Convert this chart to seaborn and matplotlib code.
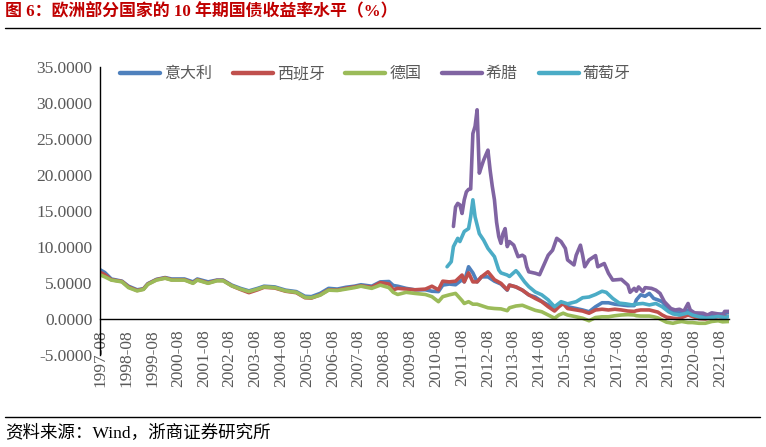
import matplotlib
matplotlib.use("Agg")
import matplotlib.pyplot as plt
import matplotlib.dates as mdates
from matplotlib.lines import Line2D
from matplotlib.ticker import FormatStrFormatter
import seaborn as sns
import pandas as pd
import numpy as np

# ---------------- data ----------------
countries = ["意大利", "西班牙", "德国", "希腊", "葡萄牙"]
colors = ["#4F81BD", "#C0504D", "#9BBB59", "#8064A2", "#4BACC6"]

core_dates = [
    "1997-08", "1997-10", "1998-01", "1998-06", "1998-09", "1999-01", "1999-04", "1999-06",
    "1999-10", "2000-02", "2000-05", "2000-11", "2001-03", "2001-05", "2001-10", "2002-02",
    "2002-05", "2002-09", "2003-01", "2003-05", "2003-09", "2003-12", "2004-05", "2004-10",
    "2005-03", "2005-07", "2005-10", "2006-02", "2006-06", "2006-10", "2007-02", "2007-06",
    "2007-09", "2008-02", "2008-06", "2008-10", "2008-12", "2009-02", "2009-06", "2009-10",
    "2010-03", "2010-06", "2010-09",
    "2010-11", "2011-02", "2011-05", "2011-08", "2011-09", "2011-11", "2012-01", "2012-03",
    "2012-05", "2012-08", "2012-11", "2013-02", "2013-05", "2013-06", "2013-09", "2013-12",
    "2014-03", "2014-06", "2014-09", "2014-12", "2015-03", "2015-05", "2015-07", "2015-09",
    "2016-01", "2016-04", "2016-07", "2016-10", "2017-01", "2017-04", "2017-07", "2017-10",
    "2018-01", "2018-04", "2018-05", "2018-07", "2018-09", "2018-11", "2019-01", "2019-03",
    "2019-05", "2019-07", "2019-10", "2019-12", "2020-02", "2020-05", "2020-07", "2020-10",
    "2021-01", "2021-04", "2021-07", "2021-09", "2021-12",
]

italy = [
    6.85, 6.5, 5.6, 5.3, 4.6, 4.1, 4.25, 4.95, 5.55, 5.8, 5.6, 5.6, 5.2, 5.6, 5.2, 5.45,
    5.45, 4.75, 4.3, 3.95, 4.3, 4.6, 4.5, 4.05, 3.85, 3.2, 3.15, 3.6, 4.3, 4.2, 4.45, 4.6,
    4.8, 4.6, 5.2, 5.25, 4.7, 4.6, 4.3, 4.1, 4.1, 3.9, 3.85,
    4.75, 4.9, 4.8, 5.5, 5.2, 7.3, 6.45, 5.2, 5.9, 5.9, 5.3, 4.9, 4.05, 4.75, 4.5, 4.05,
    3.4, 3.1, 2.5, 2.0, 1.4, 2.0, 2.3, 1.75, 1.5, 1.3, 1.05, 1.75, 2.3, 2.3, 2.1, 2.0,
    1.9, 1.9, 2.7, 3.4, 3.2, 3.6, 2.9, 2.7, 2.45, 1.75, 1.05, 0.9, 0.9, 1.3, 0.9, 0.6,
    0.5, 0.65, 0.7, 0.75, 0.95,
]

spain = [
    6.5, 6.2, 5.5, 5.25, 4.5, 4.0, 4.2, 4.9, 5.5, 5.75, 5.5, 5.5, 5.05, 5.5, 5.05, 5.4,
    5.4, 4.65, 4.15, 3.7, 4.1, 4.45, 4.35, 3.9, 3.7, 3.0, 2.95, 3.4, 4.1, 4.05, 4.3, 4.5,
    4.65, 4.45, 5.1, 4.9, 4.1, 4.3, 4.2, 4.1, 4.2, 4.6, 4.1,
    5.3, 5.2, 5.3, 6.15, 5.2, 6.45, 5.2, 5.2, 5.9, 6.6, 5.5, 5.0, 4.1, 4.75, 4.5, 4.05,
    3.4, 2.9, 2.45, 1.75, 1.15, 1.75, 2.2, 1.5, 1.3, 1.15, 0.85, 1.3, 1.4, 1.3, 1.4, 1.3,
    1.15, 1.1, 1.2, 1.3, 1.3, 1.3, 1.15, 1.0, 0.6, 0.3, 0.15, 0.1, 0.25, 0.6, 0.4, 0.1,
    0.05, 0.2, 0.35, 0.3, 0.4,
]

germany = [
    6.15, 5.9, 5.45, 5.2, 4.4, 3.95, 4.15, 4.85, 5.45, 5.7, 5.45, 5.45, 5.0, 5.45, 5.0, 5.35,
    5.35, 4.65, 4.2, 3.85, 4.2, 4.5, 4.4, 3.95, 3.75, 3.05, 3.0, 3.35, 4.05, 4.0, 4.2, 4.4,
    4.6, 4.3, 4.75, 4.4, 3.75, 3.45, 3.75, 3.6, 3.45, 3.15, 2.45,
    3.15, 3.4, 3.6, 2.6, 2.2, 2.45, 2.1, 2.1, 1.9, 1.6, 1.5, 1.45, 1.2, 1.6, 1.85, 1.95,
    1.6, 1.25, 1.05, 0.6, 0.15, 0.6, 0.85, 0.6, 0.35, 0.15, -0.2, 0.25, 0.35, 0.35, 0.5, 0.6,
    0.65, 0.6, 0.5, 0.45, 0.45, 0.45, 0.35, 0.2, -0.1, -0.4, -0.55, -0.4, -0.3, -0.45, -0.45, -0.55,
    -0.55, -0.3, -0.2, -0.35, -0.3,
]

greece_dates = [
    "2011-04", "2011-05", "2011-06", "2011-07", "2011-08", "2011-09", "2011-10", "2011-11",
    "2011-12", "2012-01", "2012-02", "2012-03", "2012-04", "2012-05", "2012-06", "2012-07",
    "2012-08", "2012-09", "2012-10", "2012-11", "2012-12", "2013-01", "2013-02", "2013-03",
    "2013-04", "2013-05", "2013-06", "2013-08", "2013-10", "2013-12", "2014-01", "2014-02",
    "2014-03", "2014-06", "2014-08", "2014-10", "2014-12", "2015-02", "2015-04", "2015-06",
    "2015-08", "2015-09", "2015-12", "2016-01", "2016-03", "2016-04", "2016-05", "2016-07",
    "2016-10", "2016-11", "2017-02", "2017-04", "2017-06", "2017-10", "2018-01", "2018-02",
    "2018-04", "2018-05", "2018-06", "2018-08", "2018-09", "2018-12", "2019-02", "2019-04",
    "2019-06", "2019-09", "2019-11", "2020-01", "2020-03", "2020-05", "2020-06", "2020-08",
    "2020-12", "2021-02", "2021-04", "2021-07", "2021-09", "2021-10", "2021-12",
]
greece = [
    12.9, 15.6, 16.1, 15.9, 14.7, 16.6, 17.7, 18.05,
    18.1, 25.8, 26.8, 29.1, 20.3, 21.2, 22.1, 22.8,
    23.5, 20.7, 18.5, 16.6, 13.5, 11.5, 10.55, 11.9,
    12.6, 10.1, 10.8, 10.3, 8.7, 8.9, 8.7, 7.3,
    6.6, 6.4, 6.2, 7.55, 8.9, 9.6, 11.25, 10.8,
    9.85, 8.25, 7.55, 8.9, 10.3, 8.9, 7.3, 8.25,
    8.85, 7.3, 7.75, 6.4, 5.45, 5.55, 4.75, 3.75,
    4.3, 3.9, 4.5, 3.85, 4.4, 4.3, 4.05, 3.6,
    2.45, 1.5, 1.3, 1.4, 1.1, 2.2, 1.3, 0.9,
    0.85, 0.6, 0.9, 0.75, 0.6, 1.1, 1.1,
]

portugal_dates = [
    "2011-01", "2011-03", "2011-04", "2011-06", "2011-07", "2011-08", "2011-09", "2011-11",
    "2011-12", "2012-01", "2012-02", "2012-04", "2012-06", "2012-08", "2012-11", "2013-01",
    "2013-02", "2013-05", "2013-06", "2013-09", "2013-10", "2014-01", "2014-03", "2014-06",
    "2014-09", "2014-12", "2015-03", "2015-06", "2015-09", "2016-01", "2016-04", "2016-07",
    "2016-10", "2017-01", "2017-03", "2017-06", "2017-09", "2017-12", "2018-03", "2018-06",
    "2018-08", "2018-11", "2019-02", "2019-05", "2019-08", "2019-10", "2020-01", "2020-05",
    "2020-07", "2020-10", "2021-01", "2021-04", "2021-07", "2021-10", "2021-12",
]
portugal = [
    7.3, 8.0, 10.1, 11.25, 10.8, 11.5, 12.2, 12.6,
    14.25, 16.6, 14.25, 11.9, 11.0, 9.85, 8.7, 6.85,
    6.45, 6.15, 5.95, 6.75, 6.45, 5.2, 4.55, 3.8,
    3.4, 2.7, 1.75, 2.45, 2.15, 2.45, 3.0, 3.1,
    3.45, 3.9, 3.75, 2.9, 2.25, 2.15, 2.0, 2.15,
    2.2, 2.0, 2.2, 1.75, 1.05, 0.75, 0.6, 0.9,
    0.6, 0.35, 0.15, 0.25, 0.4, 0.25, 0.4,
]

yticks = [-5, 0, 5, 10, 15, 20, 25, 30, 35]
title = "图 6：欧洲部分国家的 10 年期国债收益率水平（%）"
source = "资料来源：Wind，浙商证券研究所"

# ---------------- build long table ----------------
frames = []
for name, d, v in [
    (countries[0], core_dates, italy),
    (countries[1], core_dates, spain),
    (countries[2], core_dates, germany),
    (countries[3], greece_dates, greece),
    (countries[4], portugal_dates, portugal),
]:
    frames.append(pd.DataFrame({"date": pd.to_datetime(d, format="%Y-%m"),
                                "value": v, "country": name}))
df = pd.concat(frames, ignore_index=True)

# ---------------- plot ----------------
sns.set_style("white")
plt.rcParams["font.family"] = ["Liberation Serif", "Noto Sans CJK SC", "DejaVu Sans"]

fig = plt.figure(figsize=(7.66, 4.47), dpi=100)
ax = fig.add_axes([0.1312, 0.2051, 0.8205, 0.6443])

sns.lineplot(data=df, x="date", y="value", hue="country", hue_order=countries,
             palette=colors, estimator=None, linewidth=2.6, ax=ax, legend=False)

ax.set_xlim(pd.Timestamp("1997-08-01"), pd.Timestamp("2021-12-01"))
ax.set_ylim(-5, 35)
ax.set_yticks(yticks)
ax.yaxis.set_major_formatter(FormatStrFormatter("%.4f"))
xt = pd.date_range("1997-08-01", "2021-08-01", freq="12MS")
ax.set_xticks(xt)
ax.xaxis.set_major_formatter(mdates.DateFormatter("%Y-%m"))
ax.set_xlabel("")
ax.set_ylabel("")

for s in ["top", "right"]:
    ax.spines[s].set_visible(False)
ax.spines["bottom"].set_position(("data", 0))
for s in ["left", "bottom"]:
    ax.spines[s].set_color("black")
    ax.spines[s].set_linewidth(1.0)

ax.tick_params(axis="y", direction="out", length=5, width=1, color="black",
               labelsize=12.5, labelcolor="#595959", pad=0.8)
ax.tick_params(axis="x", direction="out", length=5, width=1, color="black",
               labelsize=12.5, labelcolor="#595959", pad=2, rotation=90)
ax.grid(False)

handles = [Line2D([0], [0], color=c, lw=3.2) for c in colors]
leg = ax.legend(handles, countries, ncol=5, loc="center left",
                bbox_to_anchor=(0.031, 0.978), frameon=False, borderpad=0,
                borderaxespad=0, handlelength=2.5, handletextpad=0.25,
                columnspacing=1.3,
                prop={"family": ["Noto Sans CJK SC"], "size": 11.5})
for t in leg.get_texts():
    t.set_color("#595959")

fig.text(5 / 766, 1 - 12.5 / 447, title, color="#C00000", fontsize=12.2,
         fontweight="bold", va="center", ha="left")
fig.add_artist(Line2D([5 / 766, 760 / 766], [1 - 28.3 / 447] * 2, color="black",
                      lw=1, transform=fig.transFigure))
fig.add_artist(Line2D([5 / 766, 760 / 766], [1 - 417 / 447] * 2, color="black",
                      lw=1, transform=fig.transFigure))
fig.text(5 / 766, 1 - 433.5 / 447, source, color="black", fontsize=12.6,
         va="center", ha="left")

fig.savefig("out.png", dpi=100)
